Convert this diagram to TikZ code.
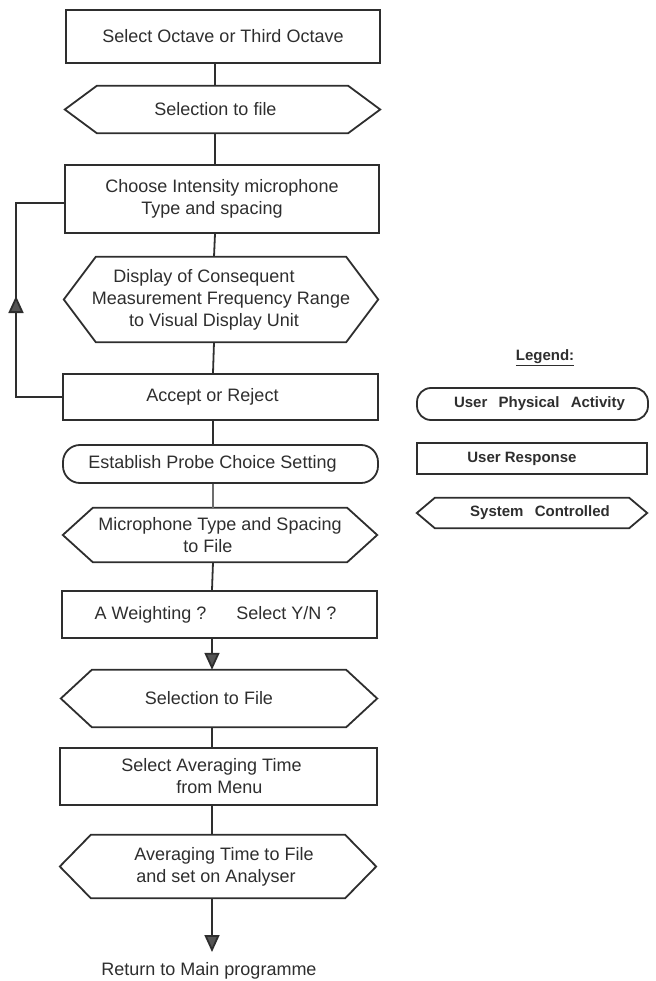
\documentclass[tikz,border=0pt]{standalone}
\usepackage{fontspec}
\setmainfont{Liberation Sans}
\usetikzlibrary{arrows.meta}
\definecolor{ink}{HTML}{2E2E2E}
\definecolor{tipgray}{HTML}{555555}
\newcommand\hexdraw[2]{\draw[shapeline] (#1.west) -- ([xshift=#2]#1.north west) -- ([xshift=-#2]#1.north east) -- (#1.east) -- ([xshift=-#2]#1.south east) -- ([xshift=#2]#1.south west) -- cycle;}
\tikzset{
  shapeline/.style={draw=ink, line width=1.8pt, line join=miter},
  txt/.style={font=\fontsize{18}{22}\selectfont, text=ink, align=center, inner sep=0pt},
  boxnode/.style={txt, shapeline, rectangle},
  hexnode/.style={txt, draw=none, rectangle},
  roundnode/.style={txt, shapeline, rectangle, rounded corners=17pt},
  conn/.style={draw=ink, line width=1.8pt},
  arr/.style={conn, -{Triangle[width=15pt,length=17pt,fill=tipgray]}},
  legtxt/.style={font=\fontsize{15}{18}\bfseries, text=ink, align=center, inner sep=0pt},
}
\begin{document}
\begin{tikzpicture}[x=1pt, y=-1pt]
\useasboundingbox (0,0) rectangle (655,981);
% main flow
\node[boxnode, minimum width=314pt, minimum height=53pt] (b1) at (223,36.5) {Select Octave or Third Octave};
\node[hexnode, minimum width=315pt, minimum height=47pt] (h2) at (222.5,109.5) {\hspace*{-14pt}Selection to file};
\node[boxnode, minimum width=314pt, minimum height=68pt] (b3) at (222,199) {Choose Intensity microphone\\\hspace*{-20pt}Type and spacing};
\node[hexnode, minimum width=314pt, minimum height=85pt] (h4) at (221,299.5) {\hspace*{-34pt}Display of Consequent\\Measurement Frequency Range\\\hspace*{-14pt}to Visual Display Unit};
\node[boxnode, minimum width=315pt, minimum height=46pt] (b5) at (220.5,397) {\hspace*{-16pt}Accept or Reject};
\node[roundnode, minimum width=315pt, minimum height=38pt] (r6) at (220.5,464) {\hspace*{-16pt}Establish Probe Choice Setting};
\node[hexnode, minimum width=314pt, minimum height=54pt] (h7) at (220,535) {Microphone Type and Spacing\\\hspace*{-24pt}to File};
\node[boxnode, minimum width=315pt, minimum height=47pt] (b8) at (219.5,614.5) {\hspace*{-8pt}A Weighting ?\hspace{30pt}Select Y/N ?};
\node[hexnode, minimum width=316pt, minimum height=57pt] (h9) at (219,698.5) {\hspace*{-20pt}Selection to File};
\node[boxnode, minimum width=317pt, minimum height=57pt] (b10) at (218.5,776.5) {\hspace*{-14pt}Select Averaging Time\\\hspace*{2pt}from Menu};
\node[hexnode, minimum width=316pt, minimum height=63pt] (h11) at (218,866.5) {\hspace*{12pt}Averaging Time to File\\\hspace*{-4pt}and set on Analyser};
\node[txt] (ret) at (209,971) {Return to Main programme};
\coordinate (tipend) at (212,952);
\hexdraw{h2}{32pt}
\hexdraw{h4}{32pt}
\hexdraw{h7}{30pt}
\hexdraw{h9}{31pt}
\hexdraw{h11}{31pt}
% connectors
\draw[conn] ([xshift=-8pt]b1.south) -- ([xshift=-7.5pt]h2.north);
\draw[conn] ([xshift=-7.5pt]h2.south) -- ([xshift=-7pt]b3.north);
\draw[conn] ([xshift=-7pt]b3.south) -- ([xshift=-7pt]h4.north);
\draw[conn] ([xshift=-7pt]h4.south) -- ([xshift=-7.5pt]b5.north);
\draw[conn] ([xshift=-7.5pt]b5.south) -- ([xshift=-7.5pt]r6.north);
\draw[conn, draw=ink!70] ([xshift=-7.5pt]r6.south) -- ([xshift=-7pt]h7.north);
\draw[conn] ([xshift=-7pt]h7.south) -- ([xshift=-7.5pt]b8.north);
\draw[arr] ([xshift=-7.5pt]b8.south) -- ([xshift=-7pt]h9.north);
\draw[conn] ([xshift=-7pt]h9.south) -- ([xshift=-6.5pt]b10.north);
\draw[conn] ([xshift=-6.5pt]b10.south) -- ([xshift=-6pt]h11.north);
\draw[arr] ([xshift=-6pt]h11.south) -- (tipend);
% feedback loop
\coordinate (lx) at (16,0);
\coordinate (ltip) at (16,296);
\draw[conn] (b5.west) -- (b5.west -| lx) -- ([yshift=-4pt]b3.west -| lx) -- ([yshift=-4pt]b3.west);
\draw[arr] (b5.west -| lx) -- (ltip);
% legend
\node[legtxt, font=\fontsize{15}{18}\bfseries] (leg) at (545,358) {\underline{Legend:}};
\node[legtxt, shapeline, rectangle, rounded corners=14pt, minimum width=231pt, minimum height=32pt] (lr) at (532.5,404) {\hspace*{14pt}User\hspace{0.75em}Physical\hspace{0.75em}Activity};
\node[legtxt, shapeline, rectangle, minimum width=230pt, minimum height=31pt] (lb) at (532,458.5) {User Response\hspace*{20pt}};
\node[legtxt, draw=none, rectangle, minimum width=230pt, minimum height=30pt] (lh) at (532,513) {\hspace*{16pt}System\hspace{0.75em}Controlled};
\hexdraw{lh}{18pt}
\end{tikzpicture}
\end{document}
